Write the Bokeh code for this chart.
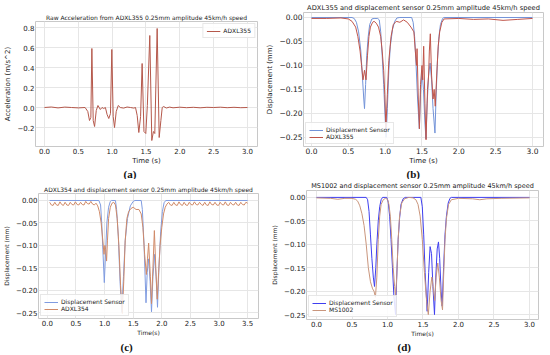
from bokeh.plotting import figure
from bokeh.layouts import column, row
from bokeh.models import Range1d, FixedTicker, Title, CustomJSTickFormatter
from bokeh.embed import file_html
from bokeh.resources import INLINE

# ---------------- data ----------------
# (a) raw acceleration ADXL355
a_t = [0.0, 0.1, 0.2, 0.3, 0.4, 0.5, 0.6, 0.64, 0.665, 0.685, 0.70, 0.72, 0.74, 0.765, 0.79,
       0.825, 0.85, 0.875, 0.90, 0.925, 0.95, 0.975, 0.995, 1.015, 1.035, 1.06, 1.09, 1.12,
       1.17, 1.22, 1.27, 1.32, 1.345, 1.37, 1.394, 1.42, 1.443, 1.47, 1.497, 1.52, 1.556,
       1.586, 1.61, 1.63, 1.665, 1.695, 1.72, 1.74, 1.76, 1.8, 1.85, 1.9, 2.0, 2.1, 2.2,
       2.3, 2.4, 2.5, 2.6, 2.7, 2.8, 2.9, 3.0]
a_acc = [0.0, 0.005, -0.004, 0.004, 0.0, -0.004, 0.0, -0.04, -0.13, -0.10, 0.59, -0.13, -0.19,
         -0.03, 0.02, -0.02, 0.0, -0.01, 0.0, -0.07, -0.11, -0.06, 0.58, -0.09, -0.20, -0.04,
         0.02, 0.0, -0.006, 0.005, 0.0, -0.006, 0.0, -0.08, -0.25, -0.09, 0.44, -0.24, -0.26,
         0.02, 0.72, -0.33, -0.24, -0.26, 0.79, -0.30, -0.13, 0.0, 0.01, -0.005, 0.004, -0.003,
         0.003, -0.002, 0.002, -0.003, 0.002, 0.0, 0.003, -0.002, 0.002, -0.002, 0.0]

# (b) ADXL355 vs displacement sensor
b_ds_t = [0.0, 0.55, 0.58, 0.61, 0.64, 0.67, 0.69, 0.71, 0.72, 0.735, 0.75, 0.77, 0.79, 0.82,
          0.85, 0.90, 0.92, 0.94, 0.96, 0.98, 1.0, 1.013, 1.03, 1.05, 1.07, 1.10, 1.13, 1.16,
          1.2, 1.36, 1.38, 1.40, 1.42, 1.44, 1.464, 1.48, 1.50, 1.52, 1.54, 1.554, 1.57, 1.59,
          1.61, 1.63, 1.65, 1.676, 1.69, 1.71, 1.73, 1.75, 1.78, 1.80, 3.0]
b_ds = [0.0, 0.0, -0.002, -0.01, -0.03, -0.07, -0.12, -0.17, -0.19, -0.14, -0.08, -0.04, -0.015,
        -0.003, -0.002, -0.002, -0.005, -0.03, -0.08, -0.14, -0.21, -0.25, -0.19, -0.11, -0.06,
        -0.025, -0.008, -0.001, 0.0, 0.0, -0.01, -0.04, -0.10, -0.17, -0.232, -0.16, -0.11,
        -0.15, -0.22, -0.253, -0.18, -0.12, -0.095, -0.13, -0.19, -0.241, -0.17, -0.09, -0.04,
        -0.015, -0.002, 0.0, 0.0]
b_acc_t = [0.0, 0.2, 0.4, 0.5, 0.55, 0.60, 0.63, 0.66, 0.68, 0.70, 0.72, 0.74, 0.76, 0.78, 0.80,
           0.83, 0.85, 0.88, 0.91, 0.94, 0.96, 0.98, 0.995, 1.01, 1.03, 1.05, 1.08, 1.11, 1.15,
           1.2, 1.25, 1.3, 1.35, 1.39, 1.41, 1.425, 1.433, 1.45, 1.465, 1.48, 1.50, 1.51, 1.523,
           1.54, 1.555, 1.575, 1.59, 1.60, 1.613, 1.63, 1.65, 1.665, 1.68, 1.70, 1.72, 1.74,
           1.77, 1.8, 2.0, 2.2, 2.4, 2.6, 2.8, 3.0]
b_acc = [-0.002, -0.002, -0.001, -0.003, -0.008, -0.02, -0.04, -0.07, -0.10, -0.13, -0.11, -0.13,
         -0.08, -0.04, -0.02, -0.01, -0.008, -0.012, -0.02, -0.04, -0.07, -0.11, -0.16, -0.23,
         -0.16, -0.09, -0.04, -0.015, -0.008, -0.01, -0.005, -0.01, -0.02, -0.03, -0.07, -0.10,
         -0.065, -0.17, -0.232, -0.14, -0.10, -0.13, -0.06, -0.18, -0.255, -0.15, -0.12, -0.07,
         -0.034, -0.12, -0.17, -0.15, -0.185, -0.12, -0.06, -0.03, -0.01, -0.003, -0.002, -0.004,
         -0.003, -0.006, -0.004, -0.002]

# (c) ADXL354 vs displacement sensor
c_ds_t = [0.04, 0.90, 0.93, 0.95, 0.97, 0.995, 1.02, 1.04, 1.07, 1.10, 1.12, 1.19, 1.21, 1.24,
          1.27, 1.30, 1.33, 1.36, 1.40, 1.45, 1.50, 1.53, 1.64, 1.66, 1.69, 1.724, 1.745, 1.77,
          1.795, 1.82, 1.845, 1.875, 1.90, 1.925, 1.95, 1.98, 2.01, 2.04, 2.07, 3.5]
c_ds = [0.0, 0.0, -0.01, -0.05, -0.11, -0.183, -0.11, -0.05, -0.015, -0.002, 0.0, 0.0, -0.02,
        -0.08, -0.18, -0.249, -0.17, -0.09, -0.04, -0.012, -0.002, 0.0, 0.0, -0.02, -0.10,
        -0.228, -0.16, -0.13, -0.18, -0.248, -0.17, -0.12, -0.17, -0.238, -0.15, -0.07, -0.025,
        -0.005, 0.0, 0.0]
c_acc_t = [0.04, 0.07, 0.10, 0.13, 0.16, 0.19, 0.22, 0.25, 0.28, 0.31, 0.34, 0.37, 0.40, 0.43,
           0.46, 0.49, 0.52, 0.55, 0.58, 0.61, 0.64, 0.67, 0.70, 0.73, 0.76, 0.79, 0.82, 0.85,
           0.88, 0.91, 0.94, 0.97, 0.99, 1.005, 1.02, 1.035, 1.05, 1.07, 1.10, 1.13, 1.16, 1.19,
           1.22, 1.25, 1.28, 1.31, 1.335, 1.36, 1.39, 1.42, 1.46, 1.50, 1.55, 1.60, 1.64, 1.67,
           1.70, 1.73, 1.75, 1.77, 1.80, 1.82, 1.845, 1.87, 1.895, 1.92, 1.945, 1.97, 2.0, 2.03,
           2.06, 2.09, 2.12, 2.15, 2.18, 2.21, 2.24, 2.27, 2.30, 2.33, 2.36, 2.39, 2.42, 2.45,
           2.48, 2.51, 2.54, 2.57, 2.60, 2.63, 2.66, 2.69, 2.72, 2.75, 2.78, 2.81, 2.84, 2.87,
           2.90, 2.93, 2.96, 2.99, 3.02, 3.05, 3.08, 3.11, 3.14, 3.17, 3.20, 3.23, 3.26, 3.29,
           3.32, 3.35, 3.38, 3.41, 3.44, 3.47, 3.5]
c_acc = [-0.004, -0.010, -0.011, -0.004, -0.010, -0.011, -0.003, -0.009, -0.011, -0.004, -0.010,
         -0.011, -0.004, -0.009, -0.010, -0.003, -0.009, -0.010, -0.004, -0.009, -0.010, -0.002,
         -0.007, -0.008, -0.002, -0.008, -0.010, -0.006, -0.012, -0.025, -0.05, -0.09, -0.12,
         -0.10, -0.11, -0.135, -0.09, -0.04, -0.015, -0.006, -0.004, -0.01, -0.04, -0.10, -0.19,
         -0.252, -0.18, -0.09, -0.04, -0.025, -0.018, -0.015, -0.02, -0.02, -0.03, -0.06, -0.12,
         -0.165, -0.13, -0.095, -0.17, -0.23, -0.15, -0.067, -0.15, -0.22, -0.16, -0.10, -0.06,
         -0.03, -0.015, -0.008, -0.004, -0.010, -0.011, -0.004, -0.010, -0.011, -0.003, -0.009,
         -0.011, -0.004, -0.010, -0.011, -0.004, -0.009, -0.010, -0.003, -0.009, -0.010, -0.004,
         -0.009, -0.011, -0.004, -0.010, -0.011, -0.003, -0.009, -0.010, -0.004, -0.010, -0.011,
         -0.004, -0.009, -0.010, -0.003, -0.010, -0.011, -0.004, -0.009, -0.010, -0.004, -0.010,
         -0.011, -0.004, -0.009, -0.010, -0.004, -0.006]

# (d) MS1002 vs displacement sensor
d_ds_t = [0.0, 0.70, 0.72, 0.74, 0.76, 0.78, 0.80, 0.817, 0.835, 0.85, 0.87, 0.89, 0.91, 0.93,
          0.99, 1.01, 1.03, 1.05, 1.07, 1.09, 1.113, 1.13, 1.15, 1.17, 1.19, 1.22, 1.25, 1.47,
          1.49, 1.51, 1.53, 1.559, 1.58, 1.60, 1.62, 1.64, 1.662, 1.68, 1.70, 1.718, 1.735,
          1.755, 1.77, 1.79, 1.81, 1.83, 1.855, 1.88, 1.90, 3.0]
d_ds = [0.0, 0.0, -0.005, -0.03, -0.08, -0.13, -0.17, -0.19, -0.15, -0.10, -0.05, -0.02, -0.005,
        0.0, 0.0, -0.01, -0.04, -0.09, -0.15, -0.21, -0.25, -0.17, -0.09, -0.045, -0.015, -0.003,
        0.0, 0.0, -0.02, -0.08, -0.16, -0.243, -0.16, -0.105, -0.12, -0.19, -0.25, -0.17, -0.11,
        -0.095, -0.13, -0.20, -0.232, -0.15, -0.08, -0.04, -0.012, -0.002, 0.0, 0.0]
d_acc_t = [0.0, 0.2, 0.3, 0.4, 0.5, 0.55, 0.58, 0.61, 0.64, 0.67, 0.70, 0.73, 0.76, 0.79, 0.81,
           0.83, 0.85, 0.87, 0.89, 0.91, 0.94, 0.97, 1.0, 1.02, 1.04, 1.06, 1.08, 1.10, 1.115,
           1.13, 1.15, 1.17, 1.20, 1.24, 1.30, 1.36, 1.40, 1.43, 1.46, 1.49, 1.52, 1.55, 1.575,
           1.60, 1.625, 1.65, 1.665, 1.685, 1.708, 1.73, 1.755, 1.775, 1.79, 1.81, 1.83, 1.86,
           1.90, 2.0, 2.2, 2.3, 2.4, 2.6, 3.0]
d_acc = [-0.001, -0.002, -0.004, -0.002, -0.002, -0.004, -0.008, -0.018, -0.035, -0.06, -0.10,
         -0.15, -0.18, -0.195, -0.20, -0.213, -0.17, -0.09, -0.04, -0.015, -0.005, -0.002, -0.004,
         -0.015, -0.04, -0.09, -0.15, -0.19, -0.21, -0.17, -0.09, -0.04, -0.012, -0.003, 0.0,
         -0.001, -0.005, -0.015, -0.04, -0.09, -0.16, -0.22, -0.25, -0.20, -0.17, -0.20, -0.22,
         -0.17, -0.14, -0.17, -0.22, -0.24, -0.17, -0.09, -0.045, -0.015, -0.005, -0.002, -0.003,
         -0.005, -0.003, -0.002, -0.001]

x_ticks_3 = [0.0, 0.5, 1.0, 1.5, 2.0, 2.5, 3.0]
x_ticks_35 = [0.0, 0.5, 1.0, 1.5, 2.0, 2.5, 3.0, 3.5]
y_ticks_acc = [-0.2, 0.0, 0.2, 0.4, 0.6, 0.8]
y_ticks_disp = [-0.25, -0.2, -0.15, -0.1, -0.05, 0.0]

FONT = "DejaVu Sans"


def make_fig(w, h, lb, rb, tb, bb, xr, yr, title, title_size, tick_size, xticks, yticks, ydig,
             xlabel, ylabel, lab_size, caption, cap_off, cap_standoff):
    p = figure(width=w, height=h, x_range=Range1d(*xr), y_range=Range1d(*yr),
               output_backend="svg", toolbar_location=None, title=title,
               min_border_left=lb, min_border_right=rb, min_border_top=tb, min_border_bottom=bb)
    p.title.text_font = FONT
    p.title.text_font_size = title_size
    p.title.text_font_style = "normal"
    p.title.text_color = "#222222"
    p.title.align = "center"
    p.title.standoff = 1
    p.outline_line_color = "#c8c8c8"
    p.background_fill_color = "white"
    p.border_fill_color = "white"
    for ax in (p.xaxis[0], p.yaxis[0]):
        ax.axis_line_color = None
        ax.major_tick_line_color = None
        ax.major_tick_out = 0
        ax.major_tick_in = 0
        ax.minor_tick_line_color = None
        ax.major_label_text_font = FONT
        ax.major_label_text_font_size = tick_size
        ax.major_label_text_color = "#222222"
        ax.major_label_standoff = 1
        ax.axis_label_text_font = FONT
        ax.axis_label_text_font_size = lab_size
        ax.axis_label_text_font_style = "normal"
        ax.axis_label_text_color = "#222222"
    p.xaxis.axis_label_standoff = 0
    p.yaxis.axis_label_standoff = 3
    p.xaxis.ticker = FixedTicker(ticks=xticks)
    p.yaxis.ticker = FixedTicker(ticks=yticks)
    p.xaxis.formatter = CustomJSTickFormatter(code="return tick.toFixed(1).replace('-', '\u2212');")
    p.yaxis.formatter = CustomJSTickFormatter(
        code="return tick.toFixed(%d).replace('-', '\u2212');" % ydig)
    p.xaxis.axis_label = xlabel
    p.yaxis.axis_label = ylabel
    p.grid.grid_line_color = "#e6e6e6"
    p.grid.grid_line_width = 1
    cap = Title(text=caption, align="left", offset=cap_off, standoff=cap_standoff,
                text_font="Liberation Serif", text_font_size="11px", text_font_style="bold",
                text_color="#111111")
    p.add_layout(cap, "below")
    return p


def style_legend(p, loc):
    lg = p.legend[0]
    lg.location = loc
    lg.label_text_font = FONT
    lg.label_text_font_size = "6px"
    lg.label_text_color = "#222222"
    lg.glyph_height = 6
    lg.glyph_width = 14
    lg.label_height = 6
    lg.label_standoff = 3
    lg.spacing = 0
    lg.padding = 3
    lg.margin = 2
    lg.border_line_color = "#d0d0d0"
    lg.background_fill_alpha = 0.85


pa = make_fig(262, 179, 35, 5, 21, 33, (-0.133, 3.148), (-0.39, 0.86),
              "Raw Acceleration from ADXL355 0.25mm amplitude 45km/h speed", "6px", "7px",
              x_ticks_3, y_ticks_acc, 1, "Time (s)", "Acceleration (m/s^2)", "7px", "(a)",
              88, -4)
pa.line(a_t, a_acc, line_color="#b5584b", line_width=1, legend_label="ADXL355")
style_legend(pa, "top_right")

pb = make_fig(288, 179, 40, 7, 12, 33, (-0.108, 3.149), (-0.269, 0.0104),
              "ADXL355 and displacement sensor 0.25mm amplitude 45km/h speed", "6.7px", "7.5px",
              x_ticks_3, y_ticks_disp, 2, "Time (s)", "Displacement (mm)", "7px", "(b)",
              103, -4)
pb.line(b_ds_t, b_ds, line_color="#7393d8", line_width=1, legend_label="Displacement Sensor")
pb.line(b_acc_t, b_acc, line_color="#c0554a", line_width=1, legend_label="ADXL355")
style_legend(pb, "bottom_left")

pc = make_fig(266, 176, 35, 8, 14, 37, (-0.155, 3.69), (-0.263, 0.0156),
              "ADXL354 and displacement sensor 0.25mm amplitude 45km/h speed", "6px", "7px",
              x_ticks_35, y_ticks_disp, 2, "Time(s)", "Displacement (mm)", "6px", "(c)",
              82, 0)
pc.line(c_ds_t, c_ds, line_color="#7f9be0", line_width=1, legend_label="Displacement Sensor")
pc.line(c_acc_t, c_acc, line_color="#d08a68", line_width=1, legend_label="ADXL354")
style_legend(pc, "bottom_left")

pd_ = make_fig(284, 176, 40, 12, 9, 36, (-0.141, 3.127), (-0.2605, 0.0147),
               "MS1002 and displacement sensor 0.25mm amplitude 45km/h speed", "6.5px", "7px",
               x_ticks_3, y_ticks_disp, 2, "Time(s)", "Displacement (mm)", "6px", "(d)",
               91, -1)
pd_.line(d_ds_t, d_ds, line_color="#3f3ff0", line_width=1, legend_label="Displacement Sensor")
pd_.line(d_acc_t, d_acc, line_color="#c9957c", line_width=1, legend_label="MS1002")
style_legend(pd_, "bottom_left")

# wrapping each figure in its own column keeps Bokeh from aligning the frames in a row
layout = column(row(column(pa), column(pb)), row(column(pc), column(pd_)))
open("out.html", "w").write(file_html(layout, INLINE))
